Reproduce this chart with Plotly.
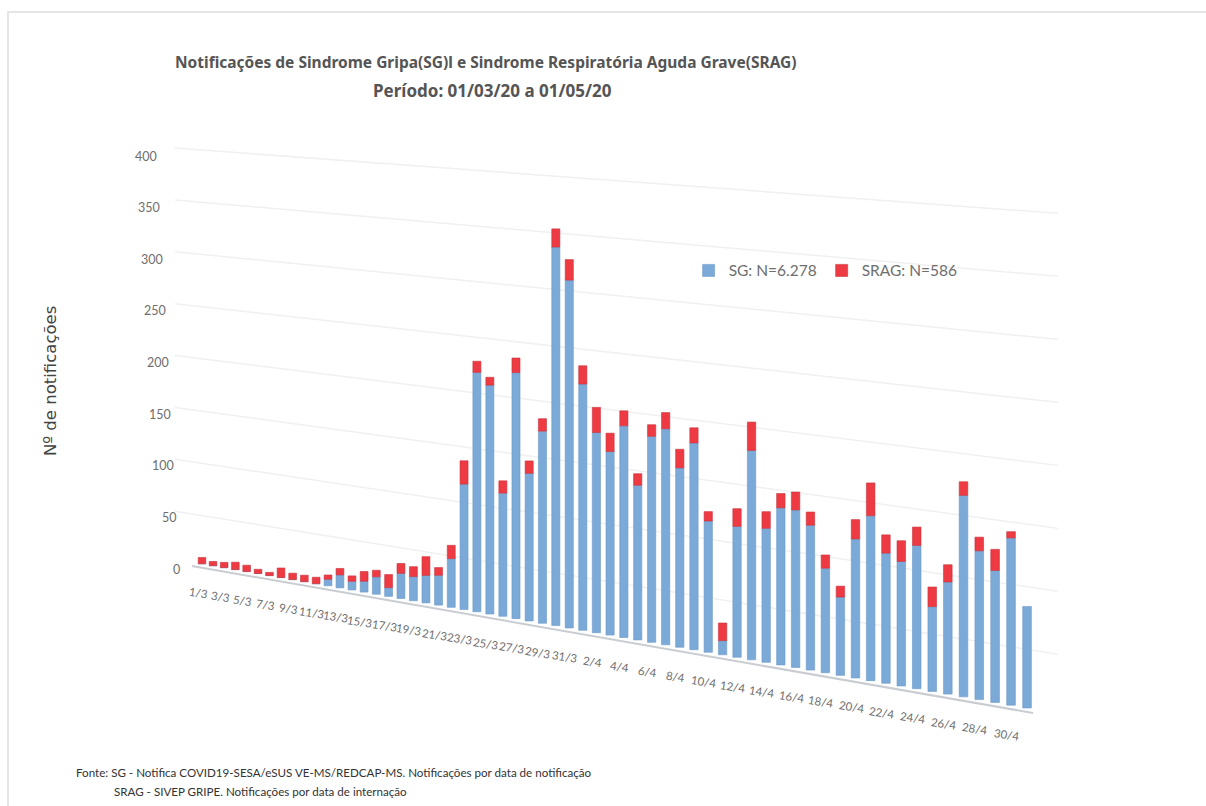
import plotly.graph_objects as go

# ---- data -------------------------------------------------------------
day_labels = ["1/3","2/3","3/3","4/3","5/3","6/3","7/3","8/3","9/3","10/3","11/3","12/3","13/3","14/3","15/3","16/3",
              "17/3","18/3","19/3","20/3","21/3","22/3","23/3","24/3","25/3","26/3","27/3","28/3","29/3","30/3","31/3",
              "1/4","2/4","3/4","4/4","5/4","6/4","7/4","8/4","9/4","10/4","11/4","12/4","13/4","14/4","15/4","16/4",
              "17/4","18/4","19/4","20/4","21/4","22/4","23/4","24/4","25/4","26/4","27/4","28/4","29/4","30/4","1/5"]
sg = [0,0,0,0,0,0,0,0,0,0,0,6,12,8,10,16,8,23,22,25,27,44,113,215,205,110,219,131,170,334,306,
      216,175,160,184,134,178,186,154,177,112,12,111,177,113,132,132,121,87,65,115,136,107,102,117,69,91,163,120,106,134,81]
srag = [6,4,5,7,6,4,3,9,6,6,6,4,6,5,9,6,12,9,9,17,7,12,21,10,7,11,13,11,11,16,18,
        16,22,16,13,10,10,14,16,13,8,15,15,24,14,12,15,11,11,9,16,27,15,17,15,16,14,11,11,17,5,0]
y_ticks = [0, 50, 100, 150, 200, 250, 300, 350, 400]
title_lines = ["Notificações de Sindrome Gripa(SG)l e Sindrome Respiratória Aguda Grave(SRAG)",
               "Período: 01/03/20 a 01/05/20"]
source_lines = ["Fonte: SG - Notifica COVID19-SESA/eSUS VE-MS/REDCAP-MS. Notificações por data de notificação",
                "SRAG - SIVEP GRIPE. Notificações por data de internação"]
NARROW = "Lato, sans-serif"
GREY = "#6e6e6e"

# ---- the tilted view of the original chart ----------------------------
def px(i):           # horizontal position of day i
    return 202 + 11.0 * i + 0.0414 * i * i
def floor_y(x):      # axis line
    return 566 + 0.1748 * (x - 192)
def unit(x):         # size of one notification at x
    return 1.0375 + 0.000252 * (x - 175)
def grid_y(x, v):
    return floor_y(x) - v * unit(x)

n = len(sg)
xs = [px(i) for i in range(n)]
bases = [floor_y(x) - 4 for x in xs]
widths = [7.6 + 0.018 * i for i in range(n)]
sg_h = [-v * unit(x) for v, x in zip(sg, xs)]
srag_h = [-v * unit(x) for v, x in zip(srag, xs)]
srag_b = [b + h for b, h in zip(bases, sg_h)]

fig = go.Figure()
fig.add_trace(go.Bar(name="SG: N=6.278", x=xs, y=sg_h, base=bases, width=widths,
                     marker=dict(color="#7BA9D8", line=dict(color="#6C9AC8", width=0.6))))
fig.add_trace(go.Bar(name="SRAG: N=586", x=xs, y=srag_h, base=srag_b, width=widths,
                     marker=dict(color="#EE3A42",
                                 line=dict(color="#C8343F", width=[0.6 if v else 0 for v in srag]))))

shapes = [dict(type="path", path="M 8 806 L 8 12 L 1206 12", line=dict(color="#dddddd", width=1.5), layer="below")]
for v in y_ticks[1:]:
    shapes.append(dict(type="line", x0=175, x1=1058, y0=grid_y(175, v), y1=grid_y(1058, v),
                       line=dict(color="#f0f0f0", width=1.5), layer="below"))
shapes.append(dict(type="line", x0=192, x1=1033, y0=floor_y(192), y1=floor_y(1033),
                   line=dict(color="#c9cdd2", width=2), layer="below"))

ann = []
for i in range(0, n - 1, 2):
    ann.append(dict(x=xs[i] - 4, y=bases[i] + 29, text=day_labels[i], showarrow=False, textangle=9,
                    font=dict(family=NARROW, size=11.5, color=GREY)))
for v in y_ticks:
    ann.append(dict(x=182 - v * 0.0575, y=569 - v * 1.0325, text=str(v), showarrow=False, xanchor="right",
                    font=dict(family=NARROW, size=12.5, color=GREY)))
ann.append(dict(x=486, y=62, text=title_lines[0], showarrow=False,
                font=dict(family="Noto Sans", size=15.5, weight=700, color="#555555")))
ann.append(dict(x=492, y=90, text=title_lines[1], showarrow=False,
                font=dict(family="Noto Sans", size=17, weight=700, color="#555555")))
ann.append(dict(x=50, y=381, text="Nº de notificações", showarrow=False, textangle=-90,
                font=dict(family="DejaVu Sans", size=16.5, color="#444444")))
ann.append(dict(x=74, y=772, text=source_lines[0], showarrow=False, xanchor="left",
                font=dict(family=NARROW, size=11.6, color="#333333")))
ann.append(dict(x=112, y=791, text=source_lines[1], showarrow=False, xanchor="left",
                font=dict(family=NARROW, size=11.6, color="#333333")))

fig.update_layout(
    width=1206, height=806, autosize=False,
    margin=dict(l=0, r=0, t=0, b=0),
    paper_bgcolor="white", plot_bgcolor="white",
    barmode="overlay",
    xaxis=dict(range=[0, 1206], visible=False, fixedrange=True),
    yaxis=dict(range=[806, 0], visible=False, fixedrange=True),
    showlegend=True,
    legend=dict(orientation="h", x=0.571, y=0.664, xanchor="left", yanchor="middle",
                font=dict(family=NARROW, size=15.5, color=GREY),
                bgcolor="rgba(0,0,0,0)", traceorder="normal"),
    annotations=ann,
    shapes=shapes,
)
fig.write_html("out.html", config={"displayModeBar": False},
               post_script="document.body.style.margin='0';document.documentElement.style.overflow='hidden';")
